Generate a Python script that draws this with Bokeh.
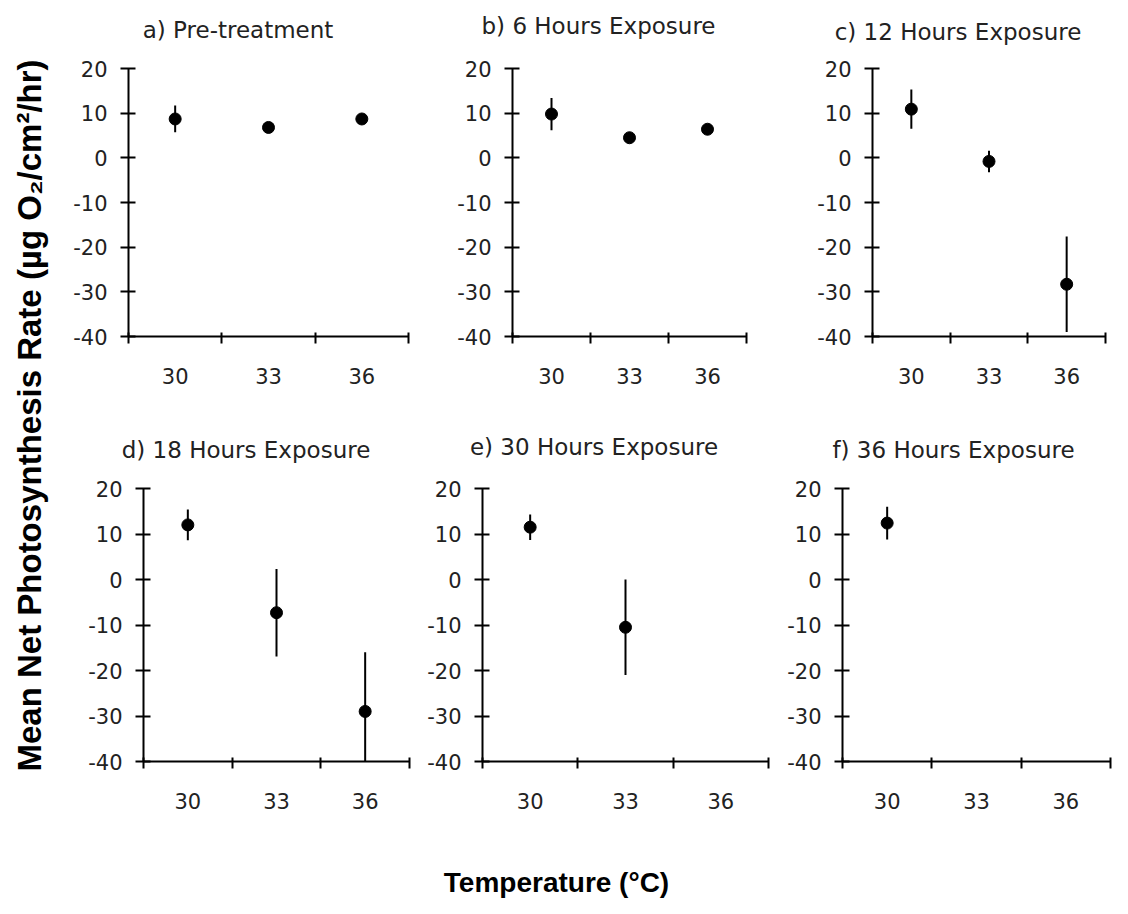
from bokeh.plotting import figure
from bokeh.models import Range1d, FixedTicker, Label, LinearAxis, ColumnDataSource
from bokeh.layouts import row, column
from bokeh.embed import file_html
from bokeh.resources import INLINE

# ---------------- data ----------------
temperatures = [30, 33, 36]
panel_titles = ["a) Pre-treatment", "b) 6 Hours Exposure", "c) 12 Hours Exposure",
                "d) 18 Hours Exposure", "e) 30 Hours Exposure", "f) 36 Hours Exposure"]
mean_pre = [8.7, 6.8, 8.7]
err_pre = [3.0, 1.0, 1.0]
mean_6h = [9.8, 4.5, 6.4]
err_6h = [3.6, 1.0, 1.0]
mean_12h = [10.9, -0.8, -28.3]
err_12h = [4.4, 2.4, 10.7]
mean_18h = [12.0, -7.3, -29.0]
err_18h = [3.4, 9.6, 13.0]
mean_30h = [11.5, -10.5]
err_30h = [2.8, 10.5]
mean_36h = [12.4]
err_36h = [3.6]
y_ticks = [-40, -30, -20, -10, 0, 10, 20]
y_tick_labels = ["-40", "-30", "-20", "-10", "0", "10", "20"]
x_ticks = [30, 33, 36]
x_tick_labels = ["30", "33", "36"]
x_dividers = [28.5, 31.5, 34.5, 37.5]
y_title = "Mean Net Photosynthesis Rate (\u00b5g O\u2082/cm\u00b2/hr)"
x_title = "Temperature (\u00b0C)"

TICK_FONT = "DejaVu Sans"
BOLD_FONT = "Liberation Sans"
TEXT_GREY = "#222222"
STRIP_H = 46


def make_panel(means, errs, geom):
    bl, fw, br, bt, fh, bb = geom
    n = len(means)
    src = ColumnDataSource(dict(
        x=temperatures[:n], y=means,
        lo=[m - e for m, e in zip(means, errs)],
        hi=[m + e for m, e in zip(means, errs)]))
    p = figure(width=bl + fw + br, height=bt + fh + bb,
               min_border_left=bl, min_border_right=br,
               min_border_top=bt, min_border_bottom=bb,
               x_range=Range1d(x_dividers[0], x_dividers[-1]),
               y_range=Range1d(y_ticks[0], y_ticks[-1]),
               x_axis_type=None, y_axis_type=None,
               toolbar_location=None, output_backend="svg")
    p.outline_line_color = None
    p.segment(x0="x", y0="lo", x1="x", y1="hi", source=src,
              line_color="black", line_width=2)
    p.scatter(x="x", y="y", source=src, marker="circle", size=12,
              fill_color="black", line_color="black")

    yax = LinearAxis(ticker=FixedTicker(ticks=y_ticks, minor_ticks=[]))
    yax.major_label_overrides = {t: s for t, s in zip(y_ticks, y_tick_labels)}
    yax.axis_line_width = 2
    yax.major_tick_line_width = 2
    yax.major_tick_in = 7
    yax.major_tick_out = 8
    yax.minor_tick_line_color = None
    yax.major_label_standoff = 13
    yax.major_label_text_font = TICK_FONT
    yax.major_label_text_font_size = "21px"
    yax.major_label_text_color = TEXT_GREY
    p.add_layout(yax, "left")

    xax = LinearAxis(ticker=FixedTicker(ticks=x_ticks, minor_ticks=x_dividers))
    xax.major_label_overrides = {t: s for t, s in zip(x_ticks, x_tick_labels)}
    xax.axis_line_width = 2
    xax.major_tick_in = 0
    xax.major_tick_out = 0
    xax.minor_tick_in = 4
    xax.minor_tick_out = 7
    xax.minor_tick_line_width = 2
    xax.minor_tick_line_color = "black"
    xax.major_label_standoff = 24
    xax.major_label_text_font = TICK_FONT
    xax.major_label_text_font_size = "21px"
    xax.major_label_text_color = TEXT_GREY
    p.add_layout(xax, "below")
    return p


def make_title_strip(titles, positions):
    s = figure(width=1052, height=STRIP_H, min_border=0, x_axis_type=None, y_axis_type=None,
               toolbar_location=None, output_backend="svg")
    s.outline_line_color = None
    for t, (x, y) in zip(titles, positions):
        s.add_layout(Label(x=x, y=y, x_units="screen", y_units="screen", text=t,
                           text_align="center", text_baseline="alphabetic",
                           text_font=TICK_FONT, text_font_size="23px",
                           text_color=TEXT_GREY))
    return s


# geometry: (border_left, frame_w, border_right, border_top, frame_h, border_bottom)
geoms = [
    (68, 280, 40, 22, 268, 84),
    (64, 234, 62, 22, 268, 84),
    (64, 233, 7, 22, 268, 84),
    (83, 266, 9, 22, 273, 59),
    (64, 286, 14, 22, 273, 59),
    (60, 268, 2, 22, 273, 59),
]
title_pos_row1 = [(177.5, 16.5), (538, 20.5), (897.5, 15)]
title_pos_row2 = [(185.5, 16.5), (533.5, 20), (893, 16.5)]

series = [(mean_pre, err_pre), (mean_6h, err_6h), (mean_12h, err_12h),
          (mean_18h, err_18h), (mean_30h, err_30h), (mean_36h, err_36h)]
panels = [make_panel(m, e, g) for (m, e), g in zip(series, geoms)]
strip1 = make_title_strip(panel_titles[:3], title_pos_row1)
strip2 = make_title_strip(panel_titles[3:], title_pos_row2)

ylab = figure(width=60, height=820, min_border=0, x_axis_type=None, y_axis_type=None,
              toolbar_location=None, output_backend="svg")
ylab.outline_line_color = None
ylab.add_layout(Label(x=29, y=405, x_units="screen", y_units="screen", angle=90,
                      angle_units="deg", text=y_title, text_align="center",
                      text_baseline="alphabetic", text_font=BOLD_FONT,
                      text_font_style="bold", text_font_size="33px", text_color="black"))

xlab = figure(width=1112, height=78, min_border=0, x_axis_type=None, y_axis_type=None,
              toolbar_location=None, output_backend="svg")
xlab.outline_line_color = None
xlab.add_layout(Label(x=556, y=16, x_units="screen", y_units="screen",
                      text=x_title, text_align="center", text_baseline="alphabetic",
                      text_font=BOLD_FONT, text_font_style="bold",
                      text_font_size="28px", text_color="black"))

grid = column(strip1, row(*panels[:3]), strip2, row(*panels[3:]))
layout = column(row(ylab, grid), xlab)
open("out.html", "w").write(file_html(layout, INLINE))
